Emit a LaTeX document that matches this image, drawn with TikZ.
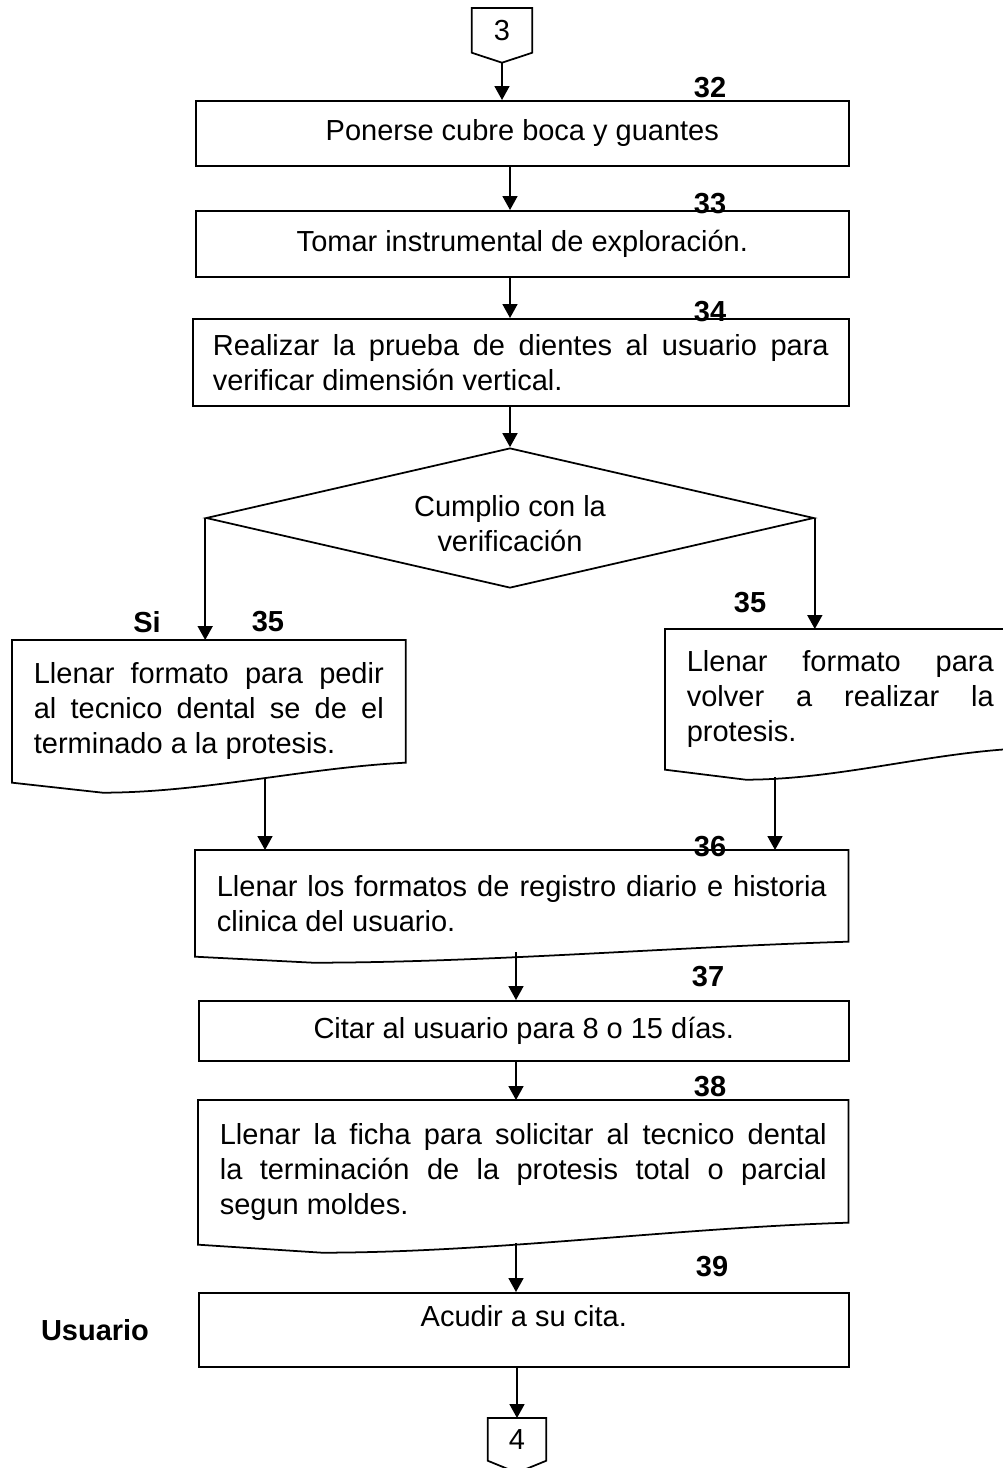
\documentclass[tikz,border=0pt]{standalone}
\usepackage{fontspec}
\setmainfont{Liberation Sans}
\usepackage{tikz}
\usetikzlibrary{arrows.meta, positioning, calc, shapes.geometric}
\hyphenpenalty=10000
\exhyphenpenalty=10000

\begin{document}
\begin{tikzpicture}[x=0.02cm, y=-0.02cm, >={Triangle[length=2.8mm, width=3mm]},
    every node/.style={font=\fontsize{16.5}{20}\selectfont},
    procbox/.style={draw, line width=1pt, inner sep=0pt, align=center, anchor=north west},
    docbox/.style={inner xsep=4.3mm, inner ysep=0pt, align=justify, anchor=north west},
    outline/.style={line width=1pt},
    num/.style={font=\fontsize{16.5}{20}\selectfont\bfseries},
    flow/.style={->, line width=1pt}]
    \useasboundingbox (0,0) rectangle (1002,1468);

    % off-page connector in
    \node[minimum width=1.2cm, minimum height=0.88cm, inner sep=0pt, anchor=north] (c3) at (502,8) {3};
    \draw[outline] (c3.north west) -- (c3.north east) -- (c3.south east) -- ($(c3.south)+(0,10)$) coordinate (c3tip) -- (c3.south west) -- cycle;

    % steps
    \node[procbox, minimum width=13.06cm, minimum height=1.3cm] (b32) at (195,100) {Ponerse cubre boca y guantes};
    \node[procbox, minimum width=13.06cm, minimum height=1.32cm] (b33) at (195,210) {Tomar instrumental de exploración.};
    \node[procbox, minimum width=13.12cm, minimum height=1.74cm, text width=12.32cm, align=justify] (b34) at (192,318) {Realizar la prueba de dientes al usuario para\linebreak verificar dimensión vertical.};
    \node[draw, diamond, aspect=4.34, line width=1pt, minimum width=12.16cm, minimum height=2.8cm, inner sep=0pt] (q) at (510,518) {};
    \node[align=center] (tq) at ($(q)+(0,6)$) {Cumplio con la\\verificación};

    % documents
    \node[docbox, minimum width=7.86cm, minimum height=2.84cm, text width=7cm] (d35a) at (12,640) {Llenar formato para pedir\linebreak al tecnico dental se de el\linebreak terminado a la protesis.};
    \draw[outline] (d35a.south west) -- ($(d35a.south west)!0.23!(d35a.south east)+(0,10)$) .. controls +(100,0) and +(-100,5) .. ($(d35a.south east)+(0,-20)$) -- (d35a.north east) -- (d35a.north west) -- cycle;
    \node[docbox, minimum width=7cm, minimum height=2.8cm, text width=6.14cm] (d35b) at (665,629) {Llenar formato para\linebreak volver a realizar la\linebreak protesis.};
    \draw[outline] (d35b.south west) -- ($(d35b.south west)!0.23!(d35b.south east)+(0,10)$) .. controls +(90,0) and +(-90,5) .. ($(d35b.south east)+(0,-21)$) -- (d35b.north east) -- (d35b.north west) -- cycle;
    \node[docbox, minimum width=13.06cm, minimum height=2.12cm, text width=12.2cm] (d36) at (195,850) {Llenar los formatos de registro diario e historia\linebreak clinica del usuario.};
    \draw[outline] (d36.south west) -- ($(d36.south west)!0.18!(d36.south east)+(0,6)$) .. controls +(170,0) and +(-170,5) .. ($(d36.south east)+(0,-15)$) -- (d36.north east) -- (d36.north west) -- cycle;
    \node[procbox, minimum width=13cm, minimum height=1.2cm] (b37) at (198,1000) {Citar al usuario para 8 o 15 días.};
    \node[docbox, minimum width=13cm, minimum height=2.88cm, text width=12.14cm] (d38) at (198,1100) {Llenar la ficha para solicitar al tecnico dental\linebreak la terminación de la protesis total o parcial\linebreak segun moldes.};
    \draw[outline] (d38.south west) -- ($(d38.south west)!0.19!(d38.south east)+(0,8)$) .. controls +(170,0) and +(-170,5) .. ($(d38.south east)+(0,-22)$) -- (d38.north east) -- (d38.north west) -- cycle;
    \node[procbox, minimum width=13cm, minimum height=1.48cm] (b39) at (198,1292) {};
    \node (t39) at ($(b39.center)+(0,-14)$) {Acudir a su cita.};

    % off-page connector out
    \node[minimum width=1.16cm, minimum height=0.84cm, inner sep=0pt, anchor=north] (c4) at (517,1418) {4};
    \draw[outline] (c4.south west) -- (c4.north west) -- (c4.north east) -- (c4.south east) -- ($(c4.south)+(0,12)$) -- cycle;

    % labels
    \node[num] (n32) at (710,88) {32};
    \node[num] (n33) at (710,204) {33};
    \node[num] (n34) at (710,312) {34};
    \node[num] (si) at (147,622) {Si};
    \node[num] (n35a) at (268,622) {35};
    \node[num] (n35b) at (750,603) {35};
    \node[num] (n36) at (710,847) {36};
    \node[num] (n37) at (708,977) {37};
    \node[num] (n38) at (710,1087) {38};
    \node[num] (n39) at (712,1267) {39};
    \node[num] (usr) at (95,1330) {Usuario};

    % connectors
    \coordinate (spineA) at (510,0);
    \coordinate (spineB) at (516,0);
    \coordinate (d35aout) at (265,779);
    \coordinate (d35bout) at (775,777);
    \coordinate (d36out) at (516,952);
    \coordinate (d38out) at (516,1243);
    \draw[flow] (c3tip) -- (c3tip |- b32.north);
    \draw[flow] (b32.south -| spineA) -- (b33.north -| spineA);
    \draw[flow] (b33.south -| spineA) -- (b34.north -| spineA);
    \draw[flow] (b34.south -| spineA) -- (q.north);
    \draw[flow] (q.west) -- (q.west |- d35a.north);
    \draw[flow] (q.east) -- (q.east |- d35b.north);
    \draw[flow] (d35aout) -- (d35aout |- d36.north);
    \draw[flow] (d35bout) -- (d35bout |- d36.north);
    \draw[flow] (d36out) -- (d36out |- b37.north);
    \draw[flow] (b37.south -| spineB) -- (d38.north -| spineB);
    \draw[flow] (d38out) -- (d38out |- b39.north);
    \draw[flow] (b39.south -| c4.north) -- (c4.north);
\end{tikzpicture}
\end{document}
